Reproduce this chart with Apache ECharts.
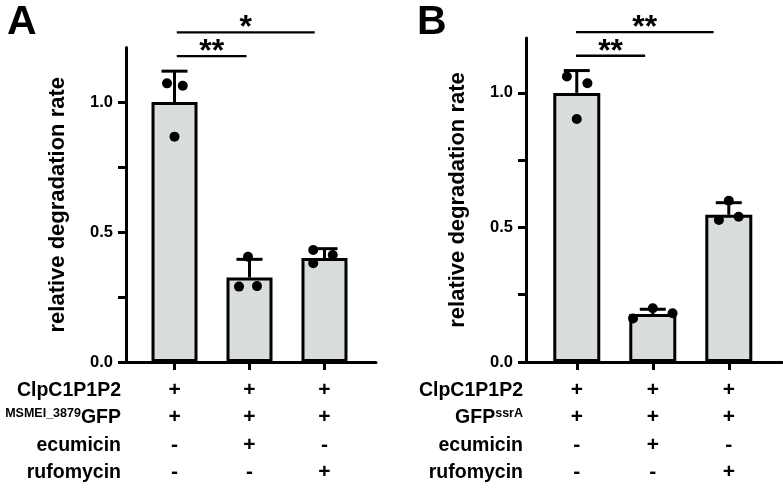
<!DOCTYPE html>
<html>
<head>
<meta charset="utf-8">
<script src="https://cdn.jsdelivr.net/npm/echarts@6/dist/echarts.min.js"></script>
<style>html,body{margin:0;padding:0;background:#fff;}#c{width:783px;height:489px;}</style>
</head>
<body>
<div id="c"></div>
<script>
// ---------- data ----------
const conditions = [1, 2, 3];
const yName = 'relative degradation rate';
const yTicks = [0, 0.25, 0.5, 0.75, 1.0];
const yLabels = [0, 0.5, 1.0];

// Panel A
const meansA = [1.0, 0.325, 0.40];
const sdA = [0.119, 0.070, 0.036];
const pointsA = [[1.072, 1.063, 0.867], [0.405, 0.290, 0.292], [0.431, 0.380, 0.412]];
const jitterA = [[-0.10, 0.11, 0.0], [-0.02, -0.14, 0.10], [-0.15, -0.15, 0.11]];
const bracketsA = [[1.03, 1.96, 1.177, '**'], [1.03, 2.87, 1.268, '*']];
const rowNamesA = ['ClpC1P1P2', '{sup|MSMEI_3879}{big|GFP}', 'ecumicin', 'rufomycin'];
const signsA = [['+', '+', '-', '-'], ['+', '+', '+', '-'], ['+', '+', '-', '+']];

// Panel B
const meansB = [1.0, 0.178, 0.547];
const sdB = [0.083, 0.018, 0.045];
const pointsB = [[1.061, 1.036, 0.903], [0.162, 0.200, 0.181], [0.599, 0.528, 0.540]];
const jitterB = [[-0.13, 0.14, 0.0], [-0.26, 0.0, 0.26], [0.0, -0.13, 0.13]];
const bracketsB = [[0.99, 1.90, 1.138, '**'], [0.99, 2.80, 1.226, '**']];
const rowNamesB = ['ClpC1P1P2', '{big|GFP}{sup|ssrA}', 'ecumicin', 'rufomycin'];
const signsB = [['+', '+', '-', '-'], ['+', '+', '+', '-'], ['+', '+', '-', '+']];

// ---------- styling ----------
const FF = '"Liberation Sans", Arial, Helvetica, sans-serif';
const FILL = '#d9dddd';

function xAxisFor(gi, min, max, signs) {
  return {
    gridIndex: gi, type: 'value', min: min, max: max,
    axisLine: { show: true, onZero: false, lineStyle: { color: '#000', width: 3 } },
    axisTick: { show: true, customValues: conditions, length: 8, lineStyle: { color: '#000', width: 3 } },
    axisLabel: {
      show: true, customValues: conditions,
      formatter: v => signs[Math.round(v) - 1].join('\n'),
      fontFamily: FF, fontSize: 21, fontWeight: 'bold', color: '#000', lineHeight: 27.6, margin: 14
    },
    splitLine: { show: false }
  };
}
function yAxisFor(gi, max) {
  return {
    gridIndex: gi, type: 'value', min: 0, max: max,
    name: yName, nameLocation: 'middle', nameGap: 57,
    nameTextStyle: { fontFamily: FF, fontSize: 22, fontWeight: 'bold', color: '#000' },
    axisLine: { show: true, lineStyle: { color: '#000', width: 3 } },
    axisTick: { show: true, customValues: yTicks, length: 8, lineStyle: { color: '#000', width: 3 } },
    axisLabel: {
      show: true, customValues: yLabels, formatter: v => v.toFixed(1),
      fontFamily: FF, fontSize: 16.5, fontWeight: 'bold', color: '#000', margin: 13
    },
    splitLine: { show: false }
  };
}
function seriesFor(gi, means, sd, points, jitter, brackets, barW) {
  return [
    {
      type: 'bar', xAxisIndex: gi, yAxisIndex: gi, barWidth: barW,
      data: means.map((m, i) => [conditions[i], m]),
      itemStyle: { color: FILL, borderColor: '#000', borderWidth: 3 }, z: 2
    },
    {
      type: 'custom', xAxisIndex: gi, yAxisIndex: gi, z: 3,
      data: means.map((m, i) => [conditions[i], m, sd[i]]),
      renderItem: (params, api) => {
        const x = api.value(0), m = api.value(1), s = api.value(2);
        const b = api.coord([x, m]);
        const t = api.coord([x, m + s]);
        const st = { stroke: '#000', lineWidth: 3 };
        return {
          type: 'group', children: [
            { type: 'line', shape: { x1: b[0], y1: b[1], x2: t[0], y2: t[1] }, style: st },
            { type: 'line', shape: { x1: t[0] - 13, y1: t[1], x2: t[0] + 13, y2: t[1] }, style: st }
          ]
        };
      }
    },
    {
      type: 'scatter', xAxisIndex: gi, yAxisIndex: gi, z: 4,
      symbol: 'circle', symbolSize: 10,
      itemStyle: { color: '#000', opacity: 1 },
      data: points.flatMap((arr, i) => arr.map((v, j) => [conditions[i] + jitter[i][j], v]))
    },
    {
      type: 'custom', xAxisIndex: gi, yAxisIndex: gi, z: 5, clip: false,
      data: brackets,
      renderItem: (params, api) => {
        const x1 = api.value(0), x2 = api.value(1), y = api.value(2);
        const label = brackets[params.dataIndex][3];
        const p1 = api.coord([x1, y]);
        const p2 = api.coord([x2, y]);
        return {
          type: 'group', children: [
            { type: 'line', shape: { x1: p1[0], y1: p1[1], x2: p2[0], y2: p2[1] }, style: { stroke: '#000', lineWidth: 2.3 } },
            { type: 'text', style: { text: label, x: (p1[0] + p2[0]) / 2, y: p1[1] - 4, align: 'center', verticalAlign: 'middle',
              font: 'bold 32px ' + FF, fill: '#000' } }
          ]
        };
      }
    }
  ];
}

function rowText(x, y, txt) {
  return {
    type: 'text', x: x, y: y,
    style: {
      text: txt, align: 'right', verticalAlign: 'middle',
      font: 'bold 19.5px ' + FF, fill: '#000',
      rich: {
        big: { fontFamily: FF, fontSize: 19.5, fontWeight: 'bold', color: '#000' },
        sup: { fontFamily: FF, fontSize: 12.5, fontWeight: 'bold', verticalAlign: 'top', color: '#000' }
      }
    }
  };
}
const rowY = [391, 417.5, 445.5, 472.5];

const graphics = [
  { type: 'text', x: 7, y: 2, style: { text: 'A', font: 'bold 41px ' + FF, fill: '#000', align: 'left', verticalAlign: 'top' } },
  { type: 'text', x: 417, y: 2, style: { text: 'B', font: 'bold 41px ' + FF, fill: '#000', align: 'left', verticalAlign: 'top' } }
];
rowNamesA.forEach((t, i) => graphics.push(rowText(121, rowY[i], t)));
rowNamesB.forEach((t, i) => graphics.push(rowText(523, rowY[i], t)));

const chart = echarts.init(document.getElementById('c'), null, { renderer: 'canvas' });
chart.setOption({
  animation: false,
  backgroundColor: '#fff',
  grid: [
    { left: 126, width: 250, top: 47.5, bottom: 127 },
    { left: 526, width: 256, top: 38, bottom: 127 }
  ],
  xAxis: [xAxisFor(0, 0.353, 3.687, signsA), xAxisFor(1, 0.332, 3.70, signsB)],
  yAxis: [yAxisFor(0, 1.21), yAxisFor(1, 1.204)],
  series: [].concat(
    seriesFor(0, meansA, sdA, pointsA, jitterA, bracketsA, 46),
    seriesFor(1, meansB, sdB, pointsB, jitterB, bracketsB, 47)
  ),
  graphic: graphics
});
</script>
</body>
</html>
